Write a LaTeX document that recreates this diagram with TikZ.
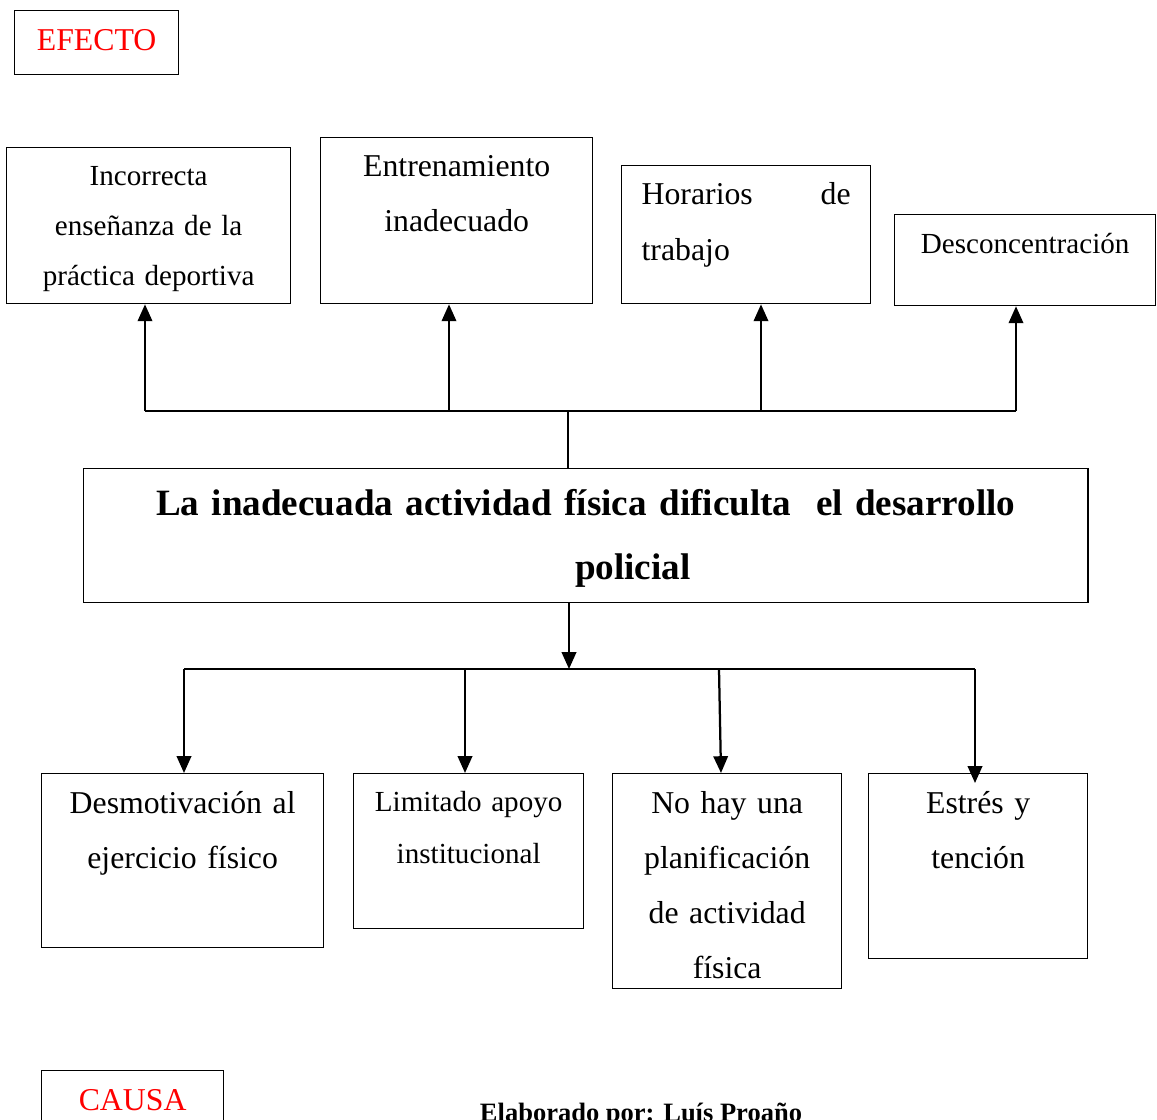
\documentclass[tikz,border=0pt]{standalone}
\usepackage{fontspec}
\setmainfont{Liberation Serif}
\usepackage{tikz}
\usetikzlibrary{arrows.meta}

\begin{document}
\begin{tikzpicture}[x=0.025cm,y=-0.025cm,>={Triangle[length=0.42cm,width=0.36cm]}]

% Estilos de las cajas y de las lineas
\tikzset{caja/.style={draw, line width=0.9pt, inner sep=0pt, anchor=north west, align=center,
    font=\fontsize{22.6}{39.1}\selectfont},
  chica/.style={font=\fontsize{20.7}{35.6}\selectfont},
  linea/.style={line width=1.6pt}}

\useasboundingbox (0,0) rectangle (1157,1119);
\clip (0,0) rectangle (1157,1119);

% --- Etiquetas ---
\node[caja, text=red, text width=4.1cm, text height=1cm, text depth=0.6cm] (efecto) at (14,10) {EFECTO};
\node[caja, text=red, text width=4.55cm, text height=1cm, text depth=1cm] (causa) at (41,1070) {CAUSA};

% --- Parte superior: efectos ---
\node[caja, chica, text width=7.1cm, text height=0.95cm, text depth=2.95cm] (ef1) at (6,147)
  {Incorrecta\\ enseñanza de la\\ práctica deportiva};
\node[caja, text width=6.8cm, text height=0.975cm, text depth=3.175cm] (ef2) at (320,137)
  {Entrenamiento\\ inadecuado};
\node[caja, align=left, inner xsep=0.5cm, text width=5.225cm, text height=0.975cm, text depth=2.475cm,
  font=\fontsize{22.6}{39.8}\selectfont] (ef3) at (621,165) {Horarios\hfill de\\ trabajo};
\node[caja, chica, text width=6.525cm, text height=0.975cm, text depth=1.3cm] (ef4) at (894,214)
  {Desconcentración};

% --- Problema central ---
\node[caja, text width=25.1cm, text height=1.175cm, text depth=2.175cm,
  font=\bfseries\fontsize{26.4}{45.5}\selectfont] (prob) at (83,468)
  {La inadecuada actividad física dificulta\ \ el desarrollo\\ \hspace*{2.35cm}policial};

% --- Parte inferior: causas ---
\node[caja, text width=7.05cm, text height=1cm, text depth=3.35cm] (ca1) at (41,773)
  {Desmotivación al\\ ejercicio físico};
\node[caja, chica, text width=5.75cm, text height=0.95cm, text depth=2.925cm,
  font=\fontsize{20.7}{37}\selectfont] (ca2) at (353,773) {Limitado apoyo\\ institucional};
\node[caja, text width=5.725cm, text height=1cm, text depth=4.375cm] (ca3) at (612,773)
  {No hay una\\ planificación\\ de actividad\\ física};
\node[caja, text width=5.475cm, text height=1cm, text depth=3.625cm] (ca4) at (868,773)
  {Estrés y\\ tención};

\node[anchor=base, font=\bfseries\fontsize{18.85}{22}\selectfont] (autor) at (641,1121)
  {Elaborado por: Luís Proaño};

% Flechas hacia los efectos
\coordinate (j0) at (568,411);
\coordinate (e1) at (145,411);
\coordinate (e2) at (449,411);
\coordinate (e3) at (761,411);
\coordinate (e4) at (1016,411);
\draw[linea] (prob.north -| j0) -- (j0);
\draw[linea] (e1) -- (e4);
\foreach \i in {1,...,4}
  \draw[linea,->] (e\i) -- (e\i |- ef\i.south);

% Flechas hacia las causas
\coordinate (k0) at (569,669);
\coordinate (c1) at (184,669);
\coordinate (c2) at (465,669);
\coordinate (c3) at (719,669);
\coordinate (c4) at (975,669);
\draw[linea,->] (prob.south -| k0) -- (k0);
\draw[linea] (c1) -- (c4);
\draw[linea,->] (c1) -- (c1 |- ca1.north);
\draw[linea,->] (c2) -- (c2 |- ca2.north);
\draw[linea,->] (c3) -- ([xshift=0.05cm]c3 |- ca3.north);
\draw[linea,->] (c4) -- ([yshift=-0.25cm]c4 |- ca4.north);
\end{tikzpicture}
\end{document}
